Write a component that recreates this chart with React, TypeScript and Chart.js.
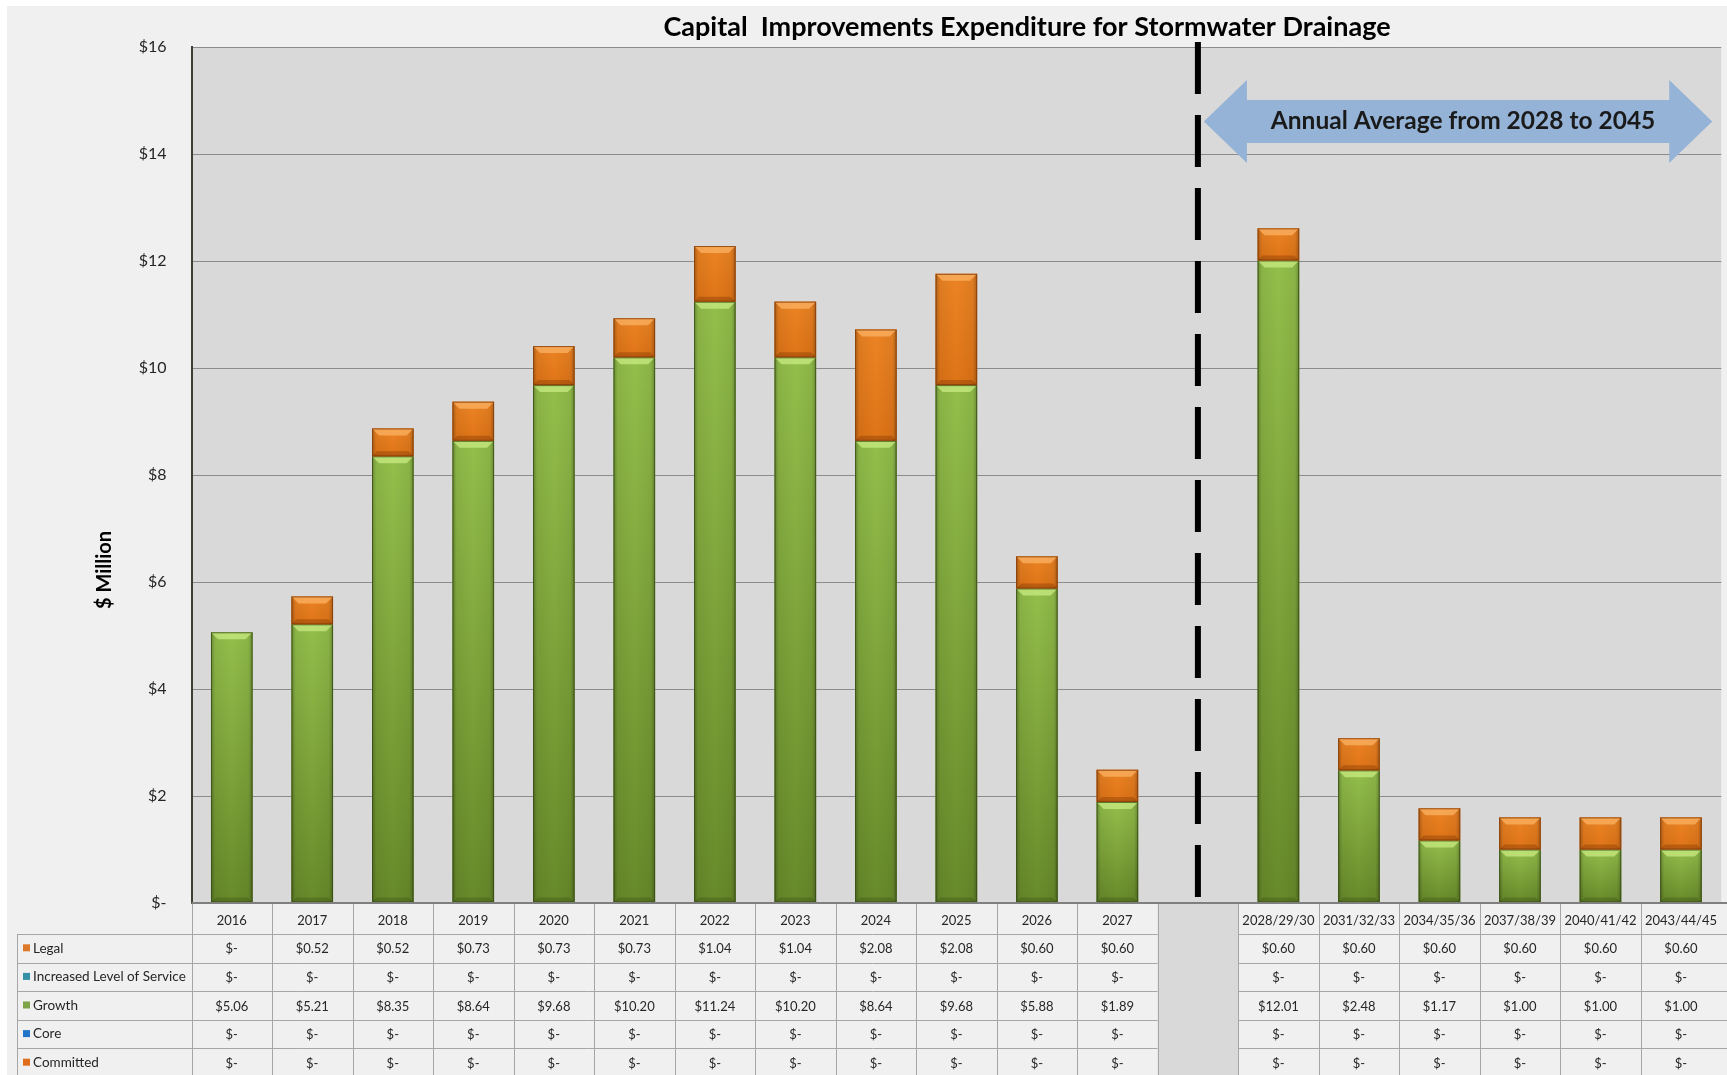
import React, { useEffect, useRef } from "react";
import { Chart, registerables } from "chart.js";

Chart.register(...registerables);

// ---------------- DATA ----------------
const categories = [
  "2016", "2017", "2018", "2019", "2020", "2021", "2022", "2023", "2024", "2025", "2026", "2027",
  "",
  "2028/29/30", "2031/32/33", "2034/35/36", "2037/38/39", "2040/41/42", "2043/44/45",
];
const legal = [0, 0.52, 0.52, 0.73, 0.73, 0.73, 1.04, 1.04, 2.08, 2.08, 0.6, 0.6, null, 0.6, 0.6, 0.6, 0.6, 0.6, 0.6];
const increasedLevelOfService = [0, 0, 0, 0, 0, 0, 0, 0, 0, 0, 0, 0, null, 0, 0, 0, 0, 0, 0];
const growth = [5.06, 5.21, 8.35, 8.64, 9.68, 10.2, 11.24, 10.2, 8.64, 9.68, 5.88, 1.89, null, 12.01, 2.48, 1.17, 1.0, 1.0, 1.0];
const core = [0, 0, 0, 0, 0, 0, 0, 0, 0, 0, 0, 0, null, 0, 0, 0, 0, 0, 0];
const committed = [0, 0, 0, 0, 0, 0, 0, 0, 0, 0, 0, 0, null, 0, 0, 0, 0, 0, 0];
const yTickValues = [0, 2, 4, 6, 8, 10, 12, 14, 16];
const gapIndex = 12;
const chartTitle = "Capital  Improvements Expenditure for Stormwater Drainage";
const arrowText = "Annual Average from 2028 to 2045";
const yAxisTitle = "$ Million";

// table rows (top to bottom as in the reference)
const tableRows = [
  { label: "Legal", key: "Legal", data: legal, swatch: "#dc782a" },
  { label: "Increased Level of Service", key: "ILOS", data: increasedLevelOfService, swatch: "#3590a8" },
  { label: "Growth", key: "Growth", data: growth, swatch: "#7da446" },
  { label: "Core", key: "Core", data: core, swatch: "#2274c8" },
  { label: "Committed", key: "Committed", data: committed, swatch: "#e06c1e" },
];

const FONT = 'Lato, "Liberation Sans", "DejaVu Sans", sans-serif';
const TEXT = "#262626";

const fmt = (v: number | null) => (v === null ? "" : v === 0 ? "$-" : "$" + v.toFixed(2));

// ---------------- PLUGIN ----------------
const decorPlugin = {
  id: "decor",
  beforeDraw(chart: any) {
    const { ctx, chartArea: ca, width, height } = chart;
    ctx.save();
    ctx.fillStyle = "#ffffff";
    ctx.fillRect(0, 0, width, height);
    ctx.fillStyle = "#f0f0f0";
    ctx.fillRect(7, 6, width - 7, height - 6);
    ctx.fillStyle = "#d9d9d9";
    ctx.fillRect(ca.left, ca.top, ca.right - ca.left, ca.bottom - ca.top);
    ctx.restore();
  },
  afterDatasetsDraw(chart: any) {
    const { ctx } = chart;
    ctx.save();
    chart.data.datasets.forEach((ds: any, di: number) => {
      const meta = chart.getDatasetMeta(di);
      if (meta.hidden) return;
      meta.data.forEach((el: any) => {
        const p = el.getProps(["x", "y", "base", "width"], true);
        const top = Math.min(p.y, p.base);
        const bottom = Math.max(p.y, p.base);
        const h = bottom - top;
        if (!isFinite(h) || h < 0.5) return;
        const left = p.x - p.width / 2;
        const right = p.x + p.width / 2;
        const w = right - left;
        const isGreen = ds.bevel === "green";
        // vertical body gradient
        const vg = ctx.createLinearGradient(0, top, 0, bottom);
        if (isGreen) {
          vg.addColorStop(0, "#93bf4b");
          vg.addColorStop(1, "#688a2a");
        } else {
          vg.addColorStop(0, "#ec8424");
          vg.addColorStop(1, "#df7417");
        }
        ctx.fillStyle = vg;
        ctx.fillRect(left, top, w, h);
        // horizontal edge shading
        const hg = ctx.createLinearGradient(left, 0, right, 0);
        hg.addColorStop(0, "rgba(0,0,0,0.28)");
        hg.addColorStop(0.1, "rgba(0,0,0,0.06)");
        hg.addColorStop(0.5, "rgba(0,0,0,0)");
        hg.addColorStop(0.9, "rgba(0,0,0,0.06)");
        hg.addColorStop(1, "rgba(0,0,0,0.28)");
        ctx.fillStyle = hg;
        ctx.fillRect(left, top, w, h);
        // top bevel
        const b = Math.min(7, h * 0.4);
        ctx.beginPath();
        ctx.moveTo(left, top);
        ctx.lineTo(right, top);
        ctx.lineTo(right - b, top + b);
        ctx.lineTo(left + b, top + b);
        ctx.closePath();
        ctx.fillStyle = isGreen ? "rgba(200,235,130,0.75)" : "rgba(250,175,95,0.8)";
        ctx.fill();
        // bottom bevel
        const bb = Math.min(5, h * 0.3);
        ctx.beginPath();
        ctx.moveTo(left, bottom);
        ctx.lineTo(right, bottom);
        ctx.lineTo(right - bb, bottom - bb);
        ctx.lineTo(left + bb, bottom - bb);
        ctx.closePath();
        ctx.fillStyle = isGreen ? "rgba(40,60,10,0.25)" : "rgba(120,50,0,0.35)";
        ctx.fill();
        // outline
        ctx.strokeStyle = isGreen ? "rgba(55,75,20,0.8)" : "rgba(130,60,10,0.8)";
        ctx.lineWidth = 1;
        ctx.strokeRect(left + 0.5, top + 0.5, w - 1, h - 1);
      });
    });
    ctx.restore();
  },
  afterDraw(chart: any) {
    const { ctx, chartArea: ca, width, height } = chart;
    const xs = chart.scales.x;
    const slot = xs.getPixelForValue(1) - xs.getPixelForValue(0);
    const colLeft = (i: number) => xs.getPixelForValue(i) - slot / 2;
    const colRight = (i: number) => xs.getPixelForValue(i) + slot / 2;
    const headTop = ca.bottom;
    const headBot = headTop + 31;
    const rowH = 28.6;
    const tableLeft = 17;
    const gapL = colLeft(gapIndex);
    const gapR = colRight(gapIndex);

    ctx.save();
    // gap column in the table
    ctx.fillStyle = "#d9d9d9";
    ctx.fillRect(gapL, headTop, gapR - gapL, height - headTop);

    // table lines
    ctx.strokeStyle = "#a6a6a6";
    ctx.lineWidth = 1;
    ctx.beginPath();
    for (let r = 0; r <= tableRows.length; r++) {
      const y = Math.round(headBot + r * rowH) + 0.5;
      ctx.moveTo(tableLeft, y);
      ctx.lineTo(gapL, y);
      ctx.moveTo(gapR, y);
      ctx.lineTo(width, y);
    }
    ctx.moveTo(tableLeft + 0.5, headBot);
    ctx.lineTo(tableLeft + 0.5, height);
    for (let i = 0; i < categories.length; i++) {
      const xl = Math.round(colLeft(i)) + 0.5;
      ctx.moveTo(xl, headTop);
      ctx.lineTo(xl, height);
    }
    ctx.stroke();

    // axis line at bottom of plot
    ctx.strokeStyle = "#7f7f7f";
    ctx.lineWidth = 2;
    ctx.beginPath();
    ctx.moveTo(ca.left, headTop);
    ctx.lineTo(width, headTop);
    ctx.stroke();

    // row labels & values
    ctx.textBaseline = "middle";
    tableRows.forEach((row, r) => {
      const cy = headBot + r * rowH + rowH / 2;
      ctx.fillStyle = row.swatch;
      ctx.fillRect(23, cy - 4, 7, 7);
      ctx.fillStyle = TEXT;
      ctx.textAlign = "left";
      ctx.font = `13.5px ${FONT}`;
      ctx.fillText(row.label, 33, cy);
      ctx.textAlign = "center";
      ctx.font = `13px ${FONT}`;
      row.data.forEach((v, i) => {
        if (i === gapIndex) return;
        ctx.fillText(fmt(v as number | null), xs.getPixelForValue(i), cy + 1);
      });
    });

    // dashed divider
    const dx = xs.getPixelForValue(gapIndex);
    ctx.strokeStyle = "#000000";
    ctx.lineWidth = 6;
    ctx.setLineDash([52, 21]);
    ctx.beginPath();
    ctx.moveTo(dx, 42);
    ctx.lineTo(dx, ca.bottom - 6);
    ctx.stroke();
    ctx.setLineDash([]);

    // double arrow
    const lt = dx + 6;
    const rt = ca.right - 9;
    const cy = 121.5;
    const headLen = 43;
    const sh = 21.5;
    const hh = 41.5;
    ctx.fillStyle = "#95b3d7";
    ctx.beginPath();
    ctx.moveTo(lt, cy);
    ctx.lineTo(lt + headLen, cy - hh);
    ctx.lineTo(lt + headLen, cy - sh);
    ctx.lineTo(rt - headLen, cy - sh);
    ctx.lineTo(rt - headLen, cy - hh);
    ctx.lineTo(rt, cy);
    ctx.lineTo(rt - headLen, cy + hh);
    ctx.lineTo(rt - headLen, cy + sh);
    ctx.lineTo(lt + headLen, cy + sh);
    ctx.lineTo(lt + headLen, cy + hh);
    ctx.closePath();
    ctx.fill();
    ctx.fillStyle = "#1a1a1a";
    ctx.font = `bold 24.5px ${FONT}`;
    ctx.textAlign = "center";
    ctx.textBaseline = "middle";
    ctx.fillText(arrowText, (lt + rt) / 2 + 5, cy);

    // chart title
    ctx.font = `bold 27px ${FONT}`;
    ctx.fillStyle = "#000000";
    ctx.fillText(chartTitle, 1027, 27);

    // y axis title
    ctx.save();
    ctx.translate(105, 570);
    ctx.rotate(-Math.PI / 2);
    ctx.font = `bold 20px ${FONT}`;
    ctx.fillText(yAxisTitle, 0, 0);
    ctx.restore();

    ctx.restore();
  },
};

export default function App() {
  const ref = useRef<HTMLCanvasElement>(null);
  useEffect(() => {
    const canvas = ref.current;
    if (!canvas) return;
    const seriesStack = [...tableRows].reverse();
    const chart = new Chart(canvas, {
      type: "bar",
      data: {
        labels: categories,
        datasets: seriesStack.map((row) => ({
          label: row.label,
          data: row.data,
          backgroundColor: row.key === "Growth" ? "#86b040" : row.swatch,
          borderWidth: 0,
          barPercentage: 0.516,
          categoryPercentage: 1,
          bevel: row.key === "Growth" ? "green" : "orange",
        })) as any,
      },
      options: {
        responsive: false,
        animation: false,
        devicePixelRatio: 1,
        layout: { padding: { top: 47, left: 0, right: 0, bottom: 0 } },
        plugins: {
          legend: { display: false },
          title: { display: false },
          tooltip: { enabled: false },
        },
        scales: {
          x: {
            stacked: true,
            grid: { display: false, drawTicks: false },
            border: { display: false },
            ticks: {
              autoSkip: false,
              maxRotation: 0,
              minRotation: 0,
              padding: 10,
              color: TEXT,
              font: { size: 13, family: FONT },
            },
            afterFit: (s: any) => {
              s.height = 172;
            },
          },
          y: {
            stacked: true,
            min: 0,
            max: 16,
            afterBuildTicks: (s: any) => {
              s.ticks = yTickValues.map((v) => ({ value: v }));
            },
            ticks: {
              padding: 25,
              color: TEXT,
              font: { size: 16, family: FONT },
              callback: (v: any) => (Number(v) === 0 ? "$-" : "$" + v),
            },
            grid: { color: "#8c8c8c", lineWidth: 1, drawTicks: false },
            border: { display: true, color: "#3f3f2f", width: 2 },
            afterFit: (s: any) => {
              s.width = 191.5;
            },
          },
        },
      },
      plugins: [decorPlugin],
    } as any);
    return () => chart.destroy();
  }, []);
  return (
    <div style={{ position: "fixed", left: 0, top: 0, width: 1727, height: 1075 }}>
      <canvas ref={ref} width={1727} height={1075} style={{ display: "block", width: 1727, height: 1075 }} />
    </div>
  );
}
